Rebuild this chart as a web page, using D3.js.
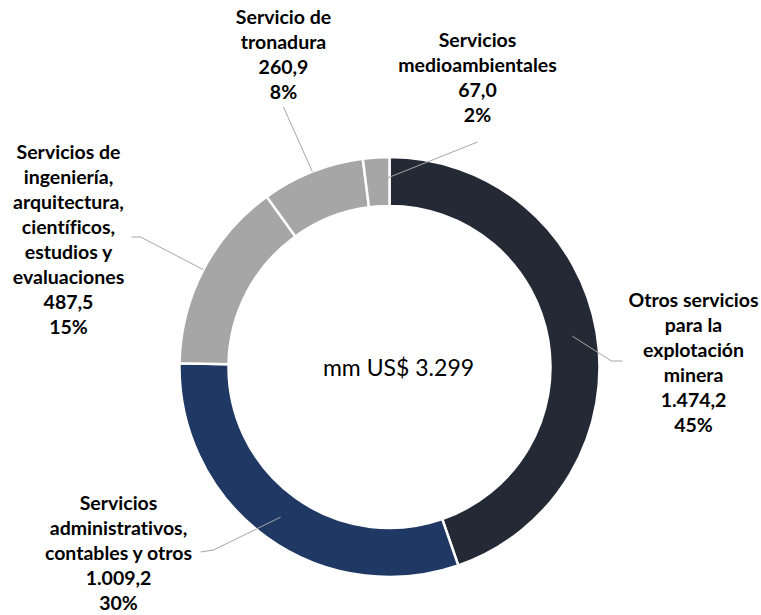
<!DOCTYPE html>
<html>
<head>
<meta charset="utf-8">
<script src="https://cdn.jsdelivr.net/npm/d3@7"></script>
<style>
  body { margin: 0; background: #fff; }
  svg { display: block; }
  text { font-variant-ligatures: none; }
  .lbl { font-family: Lato, "Open Sans", sans-serif; font-weight: 700; font-size: 19.5px; fill: #000; }
  .total { font-family: Lato, "Open Sans", sans-serif; font-size: 23px; fill: #000; }
</style>
</head>
<body>
<div id="chart"></div>
<script>
// --- data (mm US$) ---
const categories = [
  "Otros servicios para la explotación minera",
  "Servicios administrativos, contables y otros",
  "Servicios de ingeniería, arquitectura, científicos, estudios y evaluaciones",
  "Servicio de tronadura",
  "Servicios medioambientales"
];
const values = [1474.2, 1009.2, 487.5, 260.9, 67.0];
const valueLabels = ["1.474,2", "1.009,2", "487,5", "260,9", "67,0"];
const pctLabels = ["45%", "30%", "15%", "8%", "2%"];
const labelLines = [
  ["Otros servicios", "para la", "explotación", "minera"],
  ["Servicios", "administrativos,", "contables y otros"],
  ["Servicios de", "ingeniería,", "arquitectura,", "científicos,", "estudios y", "evaluaciones"],
  ["Servicio de", "tronadura"],
  ["Servicios", "medioambientales"]
];
const colors = ["#232a36", "#203864", "#a6a6a6", "#a6a6a6", "#a6a6a6"];
const totalLabel = "mm US$ 3.299";

// --- layout ---
const width = 761, height = 615;
const cx = 389.5, cy = 367;
const rOuter = 210, rInner = 161;
const lineH = 25;

// label placement relative to donut centre: text centre x, first line y,
// leader start radius, optional elbow, end of leader
const labelPos = [
  { x: 304, y: -67, r: null, elbow: [222, -6], end: [233, -6] },
  { x: -271, y: 136, r: null, elbow: [-176, 183], end: [-189, 185] },
  { x: -321, y: -215, r: rOuter, elbow: [-249, -130], end: [-258, -130] },
  { x: -106, y: -350, r: rOuter, elbow: null, end: [-106, -260] },
  { x: 88, y: -327, r: null, elbow: null, end: [88, -225] }
];

const svg = d3.select("#chart").append("svg")
  .attr("width", width).attr("height", height);

const g = svg.append("g").attr("transform", `translate(${cx},${cy})`);

const pie = d3.pie().sort(null).value(d => d)(values);
const arc = d3.arc().innerRadius(rInner).outerRadius(rOuter);

g.selectAll("path.slice")
  .data(pie).enter().append("path")
  .attr("class", "slice")
  .attr("d", arc)
  .attr("fill", (d, i) => colors[i])
  .attr("stroke", "#fff")
  .attr("stroke-width", 2.5);

// leader lines
g.selectAll("polyline.leader")
  .data(pie).enter().append("polyline")
  .attr("class", "leader")
  .attr("fill", "none")
  .attr("stroke", "#a6a6a6")
  .attr("stroke-width", 1)
  .attr("points", (d, i) => {
    const p = labelPos[i];
    let start;
    if (p.r) {
      start = d3.arc().innerRadius(p.r).outerRadius(p.r).centroid(d);
    } else {
      start = arc.centroid(d);
    }
    const pts = [start];
    if (p.elbow) pts.push(p.elbow);
    pts.push(p.end);
    return pts.map(q => q.join(",")).join(" ");
  });

// labels
pie.forEach((d, i) => {
  const p = labelPos[i];
  const lines = labelLines[i].concat([valueLabels[i], pctLabels[i]]);
  const t = g.append("text").attr("class", "lbl")
    .attr("text-anchor", "middle");
  lines.forEach((s, k) => {
    t.append("tspan")
      .attr("x", p.x)
      .attr("y", p.y + k * lineH)
      .attr("dy", "0.35em")
      .text(s);
  });
});

g.append("text").attr("class", "total")
  .attr("x", 9).attr("y", 1).attr("dy", "0.35em")
  .attr("text-anchor", "middle")
  .text(totalLabel);
</script>
</body>
</html>
